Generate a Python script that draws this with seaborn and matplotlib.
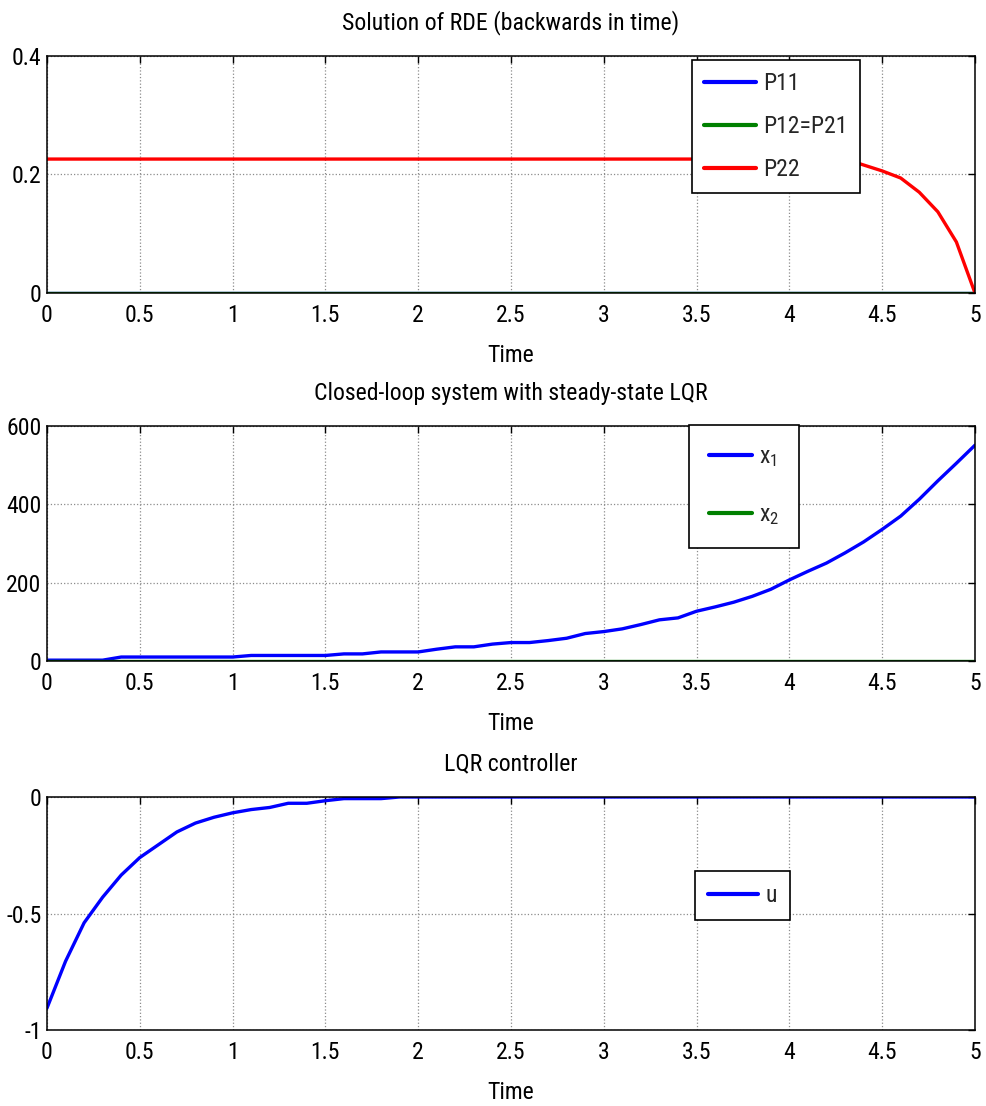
import numpy as np
import pandas as pd
import matplotlib
matplotlib.use("Agg")
import matplotlib.pyplot as plt
from matplotlib import font_manager
from matplotlib.ticker import FuncFormatter
import seaborn as sns

# ---------------- data ----------------
time = [0.0, 0.1, 0.2, 0.3, 0.4, 0.5, 0.6, 0.7, 0.8, 0.9,
        1.0, 1.1, 1.2, 1.3, 1.4, 1.5, 1.6, 1.7, 1.8, 1.9,
        2.0, 2.1, 2.2, 2.3, 2.4, 2.5, 2.6, 2.7, 2.8, 2.9,
        3.0, 3.1, 3.2, 3.3, 3.4, 3.5, 3.6, 3.7, 3.8, 3.9,
        4.0, 4.1, 4.2, 4.3, 4.4, 4.5, 4.6, 4.7, 4.8, 4.9, 5.0]

p11 = [0.0] * 51
p12 = [0.0] * 51
p22 = [0.226] * 44 + [0.216, 0.206, 0.194, 0.170, 0.137, 0.086, 0.0]

x1 = [2, 2, 2, 2, 10, 10, 10, 10, 10, 10,
      10, 14, 14, 14, 14, 14, 18, 18, 23, 23,
      23, 30, 36, 36, 43, 47, 47, 52, 58, 70,
      75, 82, 93, 105, 110, 127, 138, 150, 165, 183,
      207, 229, 250, 276, 304, 336, 370, 413, 460, 505, 551]
x2 = [0.0] * 51

u = [-0.906, -0.705, -0.540, -0.430, -0.335, -0.260, -0.205, -0.150, -0.112, -0.087,
     -0.068, -0.054, -0.045, -0.027, -0.027, -0.016, -0.007, -0.007, -0.007, 0.0,
     0.0, 0.0, 0.0, 0.0, 0.0, 0.0, 0.0, 0.0, 0.0, 0.0,
     0.0, 0.0, 0.0, 0.0, 0.0, 0.0, 0.0, 0.0, 0.0, 0.0,
     0.0, 0.0, 0.0, 0.0, 0.0, 0.0, 0.0, 0.0, 0.0, 0.0, 0.0]

x_ticks = [0, 0.5, 1, 1.5, 2, 2.5, 3, 3.5, 4, 4.5, 5]
y_ticks_1 = [0, 0.2, 0.4]
y_ticks_2 = [0, 200, 400, 600]
y_ticks_3 = [-1, -0.5, 0]

titles = ["Solution of RDE (backwards in time)",
          "Closed-loop system with steady-state LQR",
          "LQR controller"]

# ---------------- font choice ----------------
sns.set_theme(style="white")
entries = font_manager.fontManager.ttflist
names = {f.name for f in entries}
narrow = None
for cand in ["Liberation Sans Narrow", "Arial Narrow", "Roboto Condensed",
             "Open Sans Condensed", "Noto Sans Condensed", "DejaVu Sans Condensed"]:
    if cand in names:
        narrow = cand
        break
stretch = "normal"
if narrow is None:
    for f in entries:
        if f.name in ("Noto Sans", "Roboto", "Open Sans", "DejaVu Sans") and \
                str(f.stretch) in ("condensed", "semi-condensed", "extra-condensed"):
            narrow = f.name
            stretch = str(f.stretch)
            break
if narrow is not None:
    fam = [narrow, "DejaVu Sans"]
else:
    fam = ["Liberation Sans", "DejaVu Sans"]

plt.rcParams["font.family"] = fam
plt.rcParams["font.stretch"] = stretch
plt.rcParams["axes.unicode_minus"] = False
plt.rcParams["mathtext.fontset"] = "custom"
plt.rcParams["mathtext.rm"] = fam[0]
plt.rcParams["mathtext.it"] = fam[0]

fig = plt.figure(figsize=(9.87, 11.06), dpi=100)
fig.patch.set_facecolor("white")

# size the text so the first title spans about the width seen in the reference
probe = fig.text(0, 0, titles[0], fontsize=18)
fig.canvas.draw()
w18 = probe.get_window_extent().width
probe.remove()
FS = min(18.0, 18.0 * 336.0 / w18)

BLUE = (0, 0, 1)
GREEN = (0, 0.5, 0)
RED = (1, 0, 0)
LW = 2.4

left, width = 0.0476, 0.9402
ax1 = fig.add_axes([left, 0.7351, width, 0.2143])
ax2 = fig.add_axes([left, 0.4024, width, 0.2124])
ax3 = fig.add_axes([left, 0.0687, width, 0.2107])

df1 = pd.DataFrame({"t": time, "P11": p11, "P12": p12, "P22": p22})
df2 = pd.DataFrame({"t": time, "x1": x1, "x2": x2})
df3 = pd.DataFrame({"t": time, "u": u})

sns.lineplot(data=df1, x="t", y="P11", ax=ax1, color=BLUE, lw=LW, label="P11")
sns.lineplot(data=df1, x="t", y="P12", ax=ax1, color=GREEN, lw=LW, label="P12=P21")
sns.lineplot(data=df1, x="t", y="P22", ax=ax1, color=RED, lw=LW, label="P22")

sns.lineplot(data=df2, x="t", y="x1", ax=ax2, color=BLUE, lw=LW, label=r"$\mathrm{x}_{1}$")
sns.lineplot(data=df2, x="t", y="x2", ax=ax2, color=GREEN, lw=LW, label=r"$\mathrm{x}_{2}$")

sns.lineplot(data=df3, x="t", y="u", ax=ax3, color=BLUE, lw=LW, label="u")

fmt = FuncFormatter(lambda v, p: ("%g" % v))
for ax, yt, yl, title in [(ax1, y_ticks_1, (0, 0.4), titles[0]),
                          (ax2, y_ticks_2, (0, 600), titles[1]),
                          (ax3, y_ticks_3, (-1, 0), titles[2])]:
    ax.set_xlim(0, 5)
    ax.set_ylim(*yl)
    ax.set_xticks(x_ticks)
    ax.set_yticks(yt)
    ax.xaxis.set_major_formatter(fmt)
    ax.yaxis.set_major_formatter(fmt)
    ax.set_xlabel("Time", fontsize=FS, labelpad=12, color="black")
    ax.set_ylabel("")
    ax.set_title(title, fontsize=FS, pad=19, color="black")
    ax.grid(True, color="#8c8c8c", linestyle=":", linewidth=0.9)
    ax.set_axisbelow(True)
    for s in ax.spines.values():
        s.set_visible(True)
        s.set_color("black")
        s.set_linewidth(1.1)
    ax.tick_params(axis="both", direction="in", top=True, right=True,
                   length=5, width=1, colors="black", labelsize=FS,
                   labelcolor="black")
    ax.tick_params(axis="x", pad=8)
    ax.tick_params(axis="y", pad=4)

hl = 57.0 / (FS * 100 / 72)
leg_kw = dict(loc="upper left", fontsize=FS, frameon=True, fancybox=False,
              framealpha=1, edgecolor="black", handlelength=hl * 0.92,
              handletextpad=0.3, borderpad=0.5, borderaxespad=0)
l1 = ax1.legend(bbox_to_anchor=(0.695, 0.983), labelspacing=0.85, **leg_kw)
l2 = ax2.legend(bbox_to_anchor=(0.692, 1.004), labelspacing=1.45,
                **{**leg_kw, "borderpad": 0.85, "handlelength": hl * 0.75})
l3 = ax3.legend(bbox_to_anchor=(0.698, 0.682), labelspacing=0.5,
                **{**leg_kw, "borderpad": 0.55, "handlelength": hl * 0.88})
for lg in (l1, l2, l3):
    lg.get_frame().set_linewidth(1.2)
    for ln in lg.get_lines():
        ln.set_linewidth(3)

fig.savefig("out.png", dpi=100, facecolor="white")
